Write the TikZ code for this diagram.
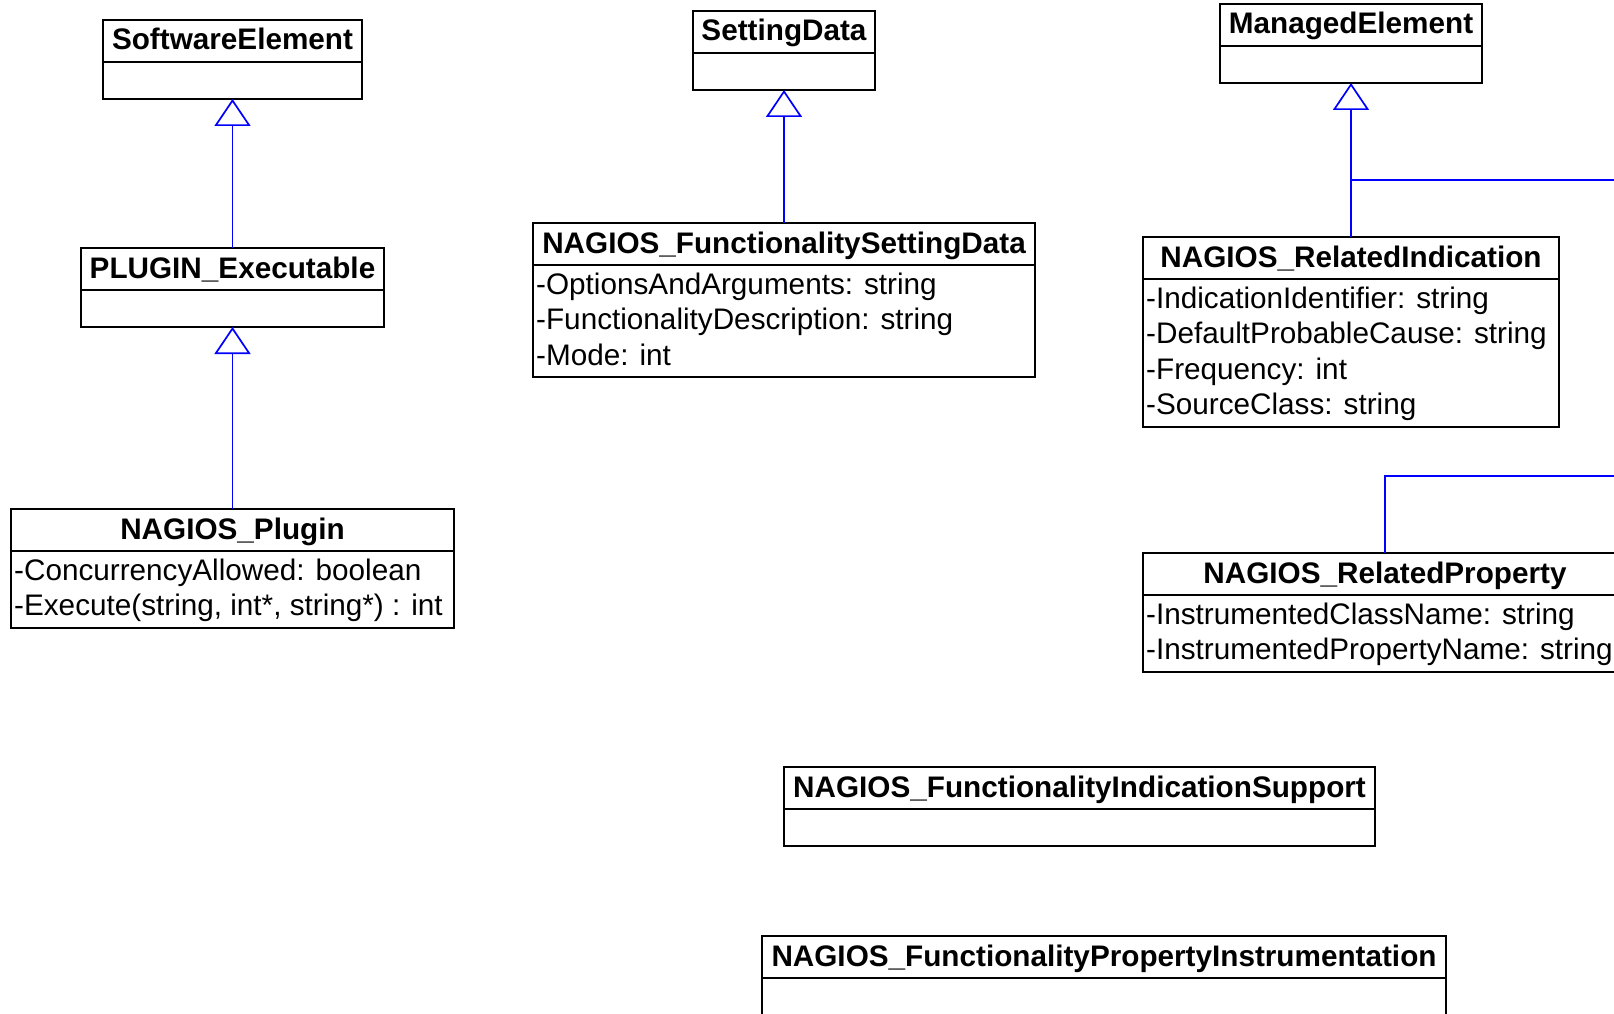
\documentclass[tikz,border=0pt]{standalone}
\usepackage{fontspec}
\setmainfont{Liberation Sans}
\usetikzlibrary{arrows.meta, positioning}

\tikzset{
  classhead/.style={draw=black, line width=2pt, anchor=north west, inner sep=0pt, outer sep=0pt,
    minimum height=42pt, font=\fontsize{29.7pt}{35.5pt}\selectfont\bfseries, text height=24pt, text depth=6pt},
  classbody/.style={draw=black, line width=2pt, inner sep=0pt, outer sep=0pt, minimum height=37pt, below=0pt of #1},
  attr/.style={anchor=base west, inner sep=0pt, font=\fontsize{29.7pt}{35.5pt}\selectfont},
  generalize/.style={draw=blue, line width=1.7pt, -{Triangle[open, length=27pt, width=36pt]}},
  blueline/.style={draw=blue, line width=1.7pt}
}

\begin{document}
\begin{tikzpicture}[x=1pt, y=-1pt]

  \clip (0,0) rectangle (1614,1014);
  \fill[white] (0,0) rectangle (1614,1014);

  % Left column: SoftwareElement <- PLUGIN_Executable <- NAGIOS_Plugin
  \node[classhead, minimum width=259pt] (swelem) at (103,20) {SoftwareElement};
  \node[classbody=swelem, minimum width=259pt] (swelem-b) {};

  \node[classhead, minimum width=303pt] (plugexec) at (81,248) {PLUGIN\_Executable};
  \node[classbody=plugexec, minimum width=303pt] (plugexec-b) {};

  \node[classhead, minimum width=443pt] (plugin) at (11,509) {NAGIOS\_Plugin};
  \node[classbody=plugin, minimum width=443pt, minimum height=76.5pt] (plugin-b) {};
  \foreach \a [count=\i from 0] in {-ConcurrencyAllowed: boolean, {-Execute(string, int*, string*) : int}}
    \node[attr] (plugin-a\i) at ([xshift=3pt, yshift={-29pt-\i*35.5pt}]plugin-b.north west) {\a};

  % Middle column: SettingData <- NAGIOS_FunctionalitySettingData
  \node[classhead, minimum width=182pt] (setdata) at (693,11) {SettingData};
  \node[classbody=setdata, minimum width=182pt] (setdata-b) {};

  \node[classhead, minimum width=502pt] (fsd) at (533,223) {NAGIOS\_FunctionalitySettingData};
  \node[classbody=fsd, minimum width=502pt, minimum height=112pt] (fsd-b) {};
  \foreach \a [count=\i from 0] in {-OptionsAndArguments: string, -FunctionalityDescription: string, -Mode: int}
    \node[attr] (fsd-a\i) at ([xshift=3pt, yshift={-29pt-\i*35.5pt}]fsd-b.north west) {\a};

  % Right column: ManagedElement <- NAGIOS_RelatedIndication, NAGIOS_RelatedProperty
  \node[classhead, minimum width=262pt] (mgdelem) at (1220,4) {ManagedElement};
  \node[classbody=mgdelem, minimum width=262pt] (mgdelem-b) {};

  \node[classhead, minimum width=416pt] (relind) at (1143,237) {NAGIOS\_RelatedIndication};
  \node[classbody=relind, minimum width=416pt, minimum height=147.5pt] (relind-b) {};
  \foreach \a [count=\i from 0] in {-IndicationIdentifier: string, -DefaultProbableCause: string, -Frequency: int, -SourceClass: string}
    \node[attr] (relind-a\i) at ([xshift=3pt, yshift={-29pt-\i*35.5pt}]relind-b.north west) {\a};

  \node[classhead, minimum width=484pt] (relprop) at (1143,553) {NAGIOS\_RelatedProperty};
  \node[classbody=relprop, minimum width=484pt, minimum height=76.5pt] (relprop-b) {};
  \foreach \a [count=\i from 0] in {-InstrumentedClassName: string, -InstrumentedPropertyName: string}
    \node[attr] (relprop-a\i) at ([xshift=3pt, yshift={-29pt-\i*35.5pt}]relprop-b.north west) {\a};

  % Bottom: association classes
  \node[classhead, minimum width=591pt] (fis) at (784,767) {NAGIOS\_FunctionalityIndicationSupport};
  \node[classbody=fis, minimum width=591pt] (fis-b) {};

  \node[classhead, minimum width=684pt] (fpi) at (762,936) {NAGIOS\_FunctionalityPropertyInstrumentation};
  \node[classbody=fpi, minimum width=684pt] (fpi-b) {};

  % Generalizations
  \draw[generalize] (plugexec.north) -- (swelem-b.south);
  \draw[generalize] (plugin.north) -- (plugexec-b.south);
  \draw[generalize] (fsd.north) -- (setdata-b.south);
  \draw[generalize] (relind.north) -- (mgdelem-b.south);

  % Lines leaving the picture on the right
  \coordinate (mgout) at (1640,180);
  \draw[blueline] (relind.north |- mgout) -- (mgout);
  \coordinate (propout) at (1640,476);
  \draw[blueline] (relprop.north) |- (propout);

\end{tikzpicture}
\end{document}
